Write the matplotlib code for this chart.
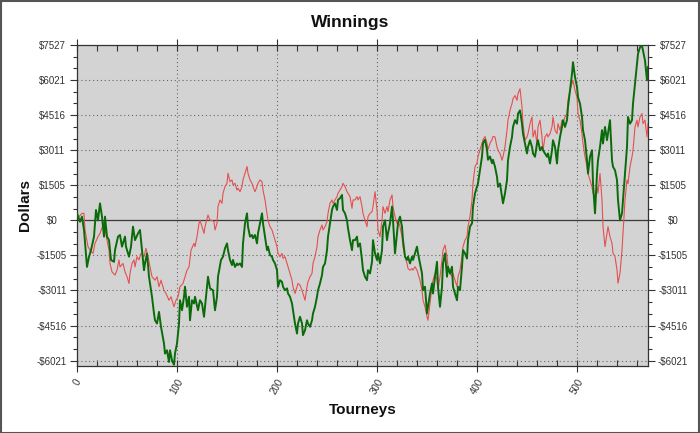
import matplotlib
matplotlib.use("Agg")
import matplotlib.pyplot as plt
from matplotlib.patches import Rectangle
from matplotlib.ticker import MultipleLocator, FixedLocator

# ---- data ----
tourney_green = [0,3,5,7,10,12,14,17,19,21,23,25,27,28,30,32,34,37,38,41,43,45,48,49,52,54,56,58,61,63,65,67,68,70,72,75,77,78,80,82,84,87,88,90,92,93,95,97,98,100,102,103,105,107,108,110,112,113,115,117,118,121,123,125,127,128,131,133,136,
    138,140,141,144,146,148,150,151,153,155,156,158,160,161,163,165,166,168,170,171,173,175,176,178,180,181,183,185,186,188,190,191,193,195,196,198,200,201,203,205,206,208,210,211,213,215,216,218,220,221,223,225,226,228,230,231,233,235,236,238,240,241,243,245,246,248,250,251,253,255,256,258,260,261,263,265,266,268,270,271,273,275,276,
    278,280,281,283,285,286,288,290,291,293,295,296,298,300,301,303,305,306,308,310,311,313,315,316,318,320,321,323,325,326,328,330,331,333,335,336,338,340,341,343,345,346,348,350,351,353,355,356,358,360,361,363,365,366,368,370,371,373,375,376,378,380,381,383,385,386,388,390,391,393,395,396,398,400,401,403,405,406,408,410,411,413,415,416,
    418,420,421,423,425,426,428,430,431,433,435,436,438,440,441,443,445,446,448,450,451,453,455,456,458,460,461,463,465,466,468,470,471,473,475,476,478,480,481,483,485,486,488,490,491,493,495,496,498,500,501,503,505,506,508,510,511,513,515,516,518,520,521,523,525,526,528,530,531,533,535,536,538,540,541,543,545,546,548,550,551,553,555,556,558,560,561,563,565,566,568,570,571]
dollars_green = [300,-60,160,-415,-2000,-1560,-1280,-700,445,0,730,160,-700,160,-700,-850,-1700,-1780,-1280,-700,-630,-1130,-700,-1130,-1560,-1130,-270,-850,-560,-415,-1280,-2140,-1850,-1420,-2420,-3280,-4000,-4290,-4430,-3930,-4570,-5290,-5720,-5580,-6080,-5580,-6010,-6200,-5720,-5290,-4430,-3430,-3860,-3280,-2850,-3710,-3280,-4290,-3430,-3570,-3280,-3860,-3430,-3570,-4140,-3710,-2420,-2920,-3000,
    -3860,-3280,-2420,-1700,-1560,-1200,-990,-1280,-1700,-1920,-1700,-2000,-1850,-1920,-1850,-2000,-990,-130,300,-270,-700,-630,-770,-630,-990,-560,-130,300,-130,-700,-1280,-1130,-1490,-1560,-1700,-1850,-2140,-2850,-2570,-2640,-2850,-3000,-2920,-3140,-3280,-3570,-3860,-4430,-4860,-4430,-4140,-4430,-4930,-4720,-4290,-4430,-4570,-4290,-4000,-3710,-3280,-3000,-2710,-2350,-2000,-1850,-1280,-700,-130,445,590,730,445,875,950,1090,445,300,0,-340,-850,-1280,-850,
    -850,-700,-1130,-990,-1700,-2140,-2420,-2570,-2140,-2280,-1780,-850,-1420,-1700,-1420,-1850,-1280,-270,0,-850,-560,-130,590,0,-1420,-560,-130,160,-270,-850,-1560,-1700,-1560,-1850,-1560,-1700,-1420,-1130,-1420,-1850,-2280,-3000,-2850,-4000,-3710,-3140,-2710,-3140,-2420,-1780,-2850,-3710,-2850,-1850,-1420,-2420,-1990,-2280,-1990,-2850,-3140,-3430,-2850,-3000,-1990,-1280,-1420,-1640,-850,-270,-130,590,1160,1450,1590,2170,2740,3310,3460,3030,2600,2740,2450,2600,
    2300,1870,1440,1580,1010,730,1160,1730,2580,3150,3580,4010,4300,4150,4580,4720,4150,3720,3300,2870,3150,3440,3150,2870,2730,3300,3440,3010,3150,3010,2870,2730,2870,2440,3010,3440,3150,2440,3010,3580,4010,4300,4010,4300,4870,5580,6290,6790,6150,5720,5290,5010,4440,3870,3440,2580,2010,2730,3010,1580,300,2010,2580,3150,3870,3300,4010,3440,3720,4300,2580,2300,2150,1730,870,0,300,870,2010,3150,4440,4150,4300,5010,5860,6720,7150,7430,7500,7290,6860,6010,6580]

tourney_red = [0,2,5,7,8,11,13,16,18,21,23,26,28,30,32,33,35,38,40,42,43,46,48,50,52,53,55,57,58,60,62,64,67,69,71,73,75,78,80,82,84,87,89,92,94,97,99,101,103,106,108,110,112,114,117,118,120,122,123,125,127,128,131,133,135,137,
    138,140,141,143,145,146,148,150,151,153,155,156,158,160,161,163,165,166,168,170,171,173,175,176,178,180,181,183,185,186,188,190,191,193,195,196,198,200,201,203,205,206,208,210,211,213,215,216,218,220,221,223,225,226,228,230,231,233,235,236,238,240,241,243,245,246,248,250,251,253,255,256,258,260,261,263,265,266,268,270,271,273,275,276,
    278,280,281,283,285,286,288,290,291,293,295,296,298,300,301,303,305,306,308,310,311,313,315,316,318,320,321,323,325,326,328,330,331,333,335,336,338,340,341,343,345,346,348,350,351,353,355,356,358,360,361,363,365,366,368,370,371,373,375,376,378,380,381,383,385,386,388,390,391,393,395,396,398,400,401,403,405,406,408,410,411,413,415,416,
    418,420,421,423,425,426,428,430,431,433,435,436,438,440,441,443,445,446,448,450,451,453,455,456,458,460,461,463,465,466,468,470,471,473,475,476,478,480,481,483,485,486,488,490,491,493,495,496,498,500,501,503,505,506,508,510,511,513,515,516,518,520,521,523,525,526,528,530,531,533,535,536,538,540,541,543,545,546,548,550,551,553,555,556,558,560,561,563,565,566,568,570,571]
dollars_red = [160,160,300,300,-415,-1130,-1280,-1420,-990,-700,-560,-200,-415,-850,-1280,-1850,-2210,-2350,-2140,-1700,-2000,-1850,-2210,-2420,-2710,-2280,-1850,-1700,-2000,-1560,-1700,-1420,-1560,-1200,-1560,-2000,-2420,-2570,-2420,-2850,-2570,-3000,-3140,-3430,-3280,-3710,-3430,-3280,-2850,-2710,-2420,-2140,-2000,-1280,-990,-1130,-700,-130,0,-270,-560,-270,230,0,0,-60,
    -415,-130,590,875,730,1160,1450,1590,2020,1660,1735,1520,1590,1300,1380,1230,1450,1735,2020,2310,2020,1735,1590,1450,1230,1450,1590,1735,1660,1300,875,300,0,-270,-415,-560,-850,-1130,-1420,-1560,-1420,-1630,-1560,-1850,-2000,-2280,-2570,-2850,-3140,-2850,-2710,-2780,-3000,-3140,-3430,-2850,-2640,-2420,-2280,-1850,-1560,-1130,-700,-415,-200,-415,-270,-60,300,730,875,730,875,1020,1160,1300,1450,1590,1450,1230,1160,1020,515,875,
    875,1020,875,1020,590,300,0,-270,160,300,370,590,1230,445,-415,-700,0,590,300,590,370,875,1090,590,160,-130,0,-270,-700,-1130,-1560,-1850,-2070,-2140,-2070,-2140,-1990,-2140,-2280,-2570,-3000,-3430,-3710,-4140,-4290,-3570,-2850,-2570,-2280,-2570,-3000,-2420,-1700,-1280,-1060,-1560,-1990,-2280,-2420,-2280,-2570,-2850,-2420,-2140,-1560,-1130,-850,-700,-270,160,875,1590,2310,2450,2740,3030,3310,3460,3600,3310,3030,3310,3460,3600,
    3580,3150,3010,2870,2580,2730,3150,3870,4300,4720,5010,5220,5360,5150,5440,5650,4870,4150,3440,3580,3720,4150,4440,3580,3870,3300,4010,4300,3580,3010,3580,3720,3580,3720,4010,4440,3870,3720,4150,3870,4300,4150,4440,4580,5150,5580,5860,6010,5580,5290,4580,4300,3720,3300,2730,2300,2010,1730,1440,1160,1010,1440,1160,2010,870,-270,-1130,-560,-270,-700,-990,-1410,-1560,-2130,-2700,-2270,-1270,-560,870,1730,1580,2300,2730,3010,4010,4300,4010,4440,4580,4150,4300,3580,4150]

step = 1505.4
y_ticks = [-4 * step, -3 * step, -2 * step, -step, 0, step, 2 * step, 3 * step, 4 * step, 5 * step]
y_tick_labels = ["-$6021", "-$4516", "-$3011", "-$1505", "$0", "$1505", "$3011", "$4516", "$6021", "$7527"]
x_ticks = [0, 100, 200, 300, 400, 500]
x_tick_labels = ["0", "100", "200", "300", "400", "500"]

# ---- figure ----
plt.rcParams['font.family'] = ['Liberation Sans', 'DejaVu Sans']
fig = plt.figure(figsize=(7.0, 4.33), dpi=100)
fig.subplots_adjust(left=77 / 700, right=648 / 700, bottom=1 - 366 / 433, top=1 - 45 / 433)
ax = fig.add_subplot(111)
ax.set_facecolor('#d3d3d3')

ax.plot(tourney_red, dollars_red, color='#e45050', lw=0.8, zorder=3)
ax.plot(tourney_green, dollars_green, color='#0b6b0b', lw=1.4, zorder=4)
ax.axhline(0, color='#3a3a3a', lw=0.9, zorder=2)

ax.set_xlim(0, 571)
ax.set_ylim(-6253, 7527)

ax.yaxis.set_major_locator(FixedLocator(y_ticks))
ax.set_yticklabels(y_tick_labels)
ax.yaxis.set_minor_locator(MultipleLocator(step / 3))
ax.xaxis.set_major_locator(FixedLocator(x_ticks))
ax.set_xticklabels(x_tick_labels)
ax.xaxis.set_minor_locator(MultipleLocator(20))

ax.grid(True, which='major', color='#666666', linestyle=(0, (1.0, 2.5)), lw=0.8, zorder=1)
ax.set_axisbelow(True)

for sp in ax.spines.values():
    sp.set_color('#333333')
    sp.set_linewidth(0.9)

ax.tick_params(axis='y', which='major', direction='out', length=5, width=0.8, color='#333333',
               left=True, right=True, labelleft=True, labelright=True, labelsize=7,
               labelcolor='#333333', pad=13)
ax.tick_params(axis='y', which='minor', direction='out', length=3, width=0.8, color='#333333',
               left=True, right=True)
ax.tick_params(axis='x', which='major', direction='inout', length=8, width=0.8, color='#333333',
               top=True, bottom=True, labelsize=7, labelcolor='#333333', pad=4)
ax.tick_params(axis='x', which='minor', direction='in', length=4, width=0.8, color='#333333',
               top=True, bottom=True)

for t in ax.yaxis.get_major_ticks():
    t.label1.set_horizontalalignment('center')
    t.label2.set_horizontalalignment('center')
for lab in ax.get_xticklabels():
    lab.set_rotation(60)
    lab.set_horizontalalignment('center')
    lab.set_verticalalignment('top')

fig.text(0.5, 1 - 23 / 433, 'Winnings', ha='center', va='center', fontsize=12.5, fontweight='bold', color='#111111')
fig.text(363 / 700, 1 - 410 / 433, 'Tourneys', ha='center', va='center', fontsize=11, fontweight='bold', color='#111111')
fig.text(25 / 700, 1 - 205 / 433, 'Dollars', ha='center', va='center', rotation=90, fontsize=11, fontweight='bold', color='#111111')

fig.patches.append(Rectangle((0.001, 0.001), 0.998, 0.997, transform=fig.transFigure,
                             fill=False, edgecolor='#555555', lw=1.5))

fig.savefig('out.png', dpi=100, facecolor='white')
